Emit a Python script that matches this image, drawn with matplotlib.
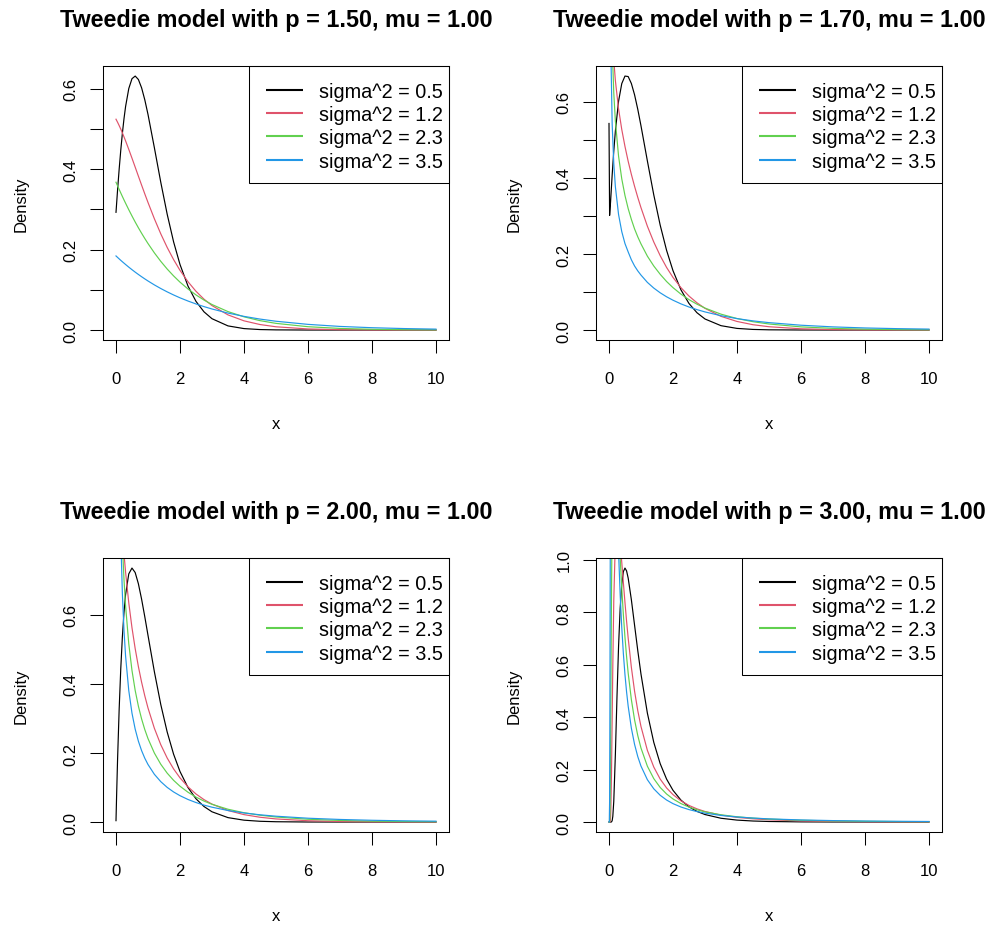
import numpy as np
import matplotlib
matplotlib.use("Agg")
import matplotlib.pyplot as plt
from matplotlib.lines import Line2D
from matplotlib.patches import Rectangle
from matplotlib.ticker import MultipleLocator, FormatStrFormatter

plt.rcParams["font.family"] = ["Liberation Sans", "DejaVu Sans"]

nan = float("nan")

line_colors = ["black", "#DF536B", "#61D04F", "#2297E6"]
legend_labels = ["sigma^2 = 0.5", "sigma^2 = 1.2", "sigma^2 = 2.3", "sigma^2 = 3.5"]
titles = ["Tweedie model with p = 1.50, mu = 1.00",
          "Tweedie model with p = 1.70, mu = 1.00",
          "Tweedie model with p = 2.00, mu = 1.00",
          "Tweedie model with p = 3.00, mu = 1.00"]

# p = 1.50
x_p150 = [0, 0.05, 0.1, 0.15, 0.2, 0.25, 0.3, 0.4, 0.5, 0.6, 0.7, 0.8, 0.9, 1.0,
          1.2, 1.4, 1.6, 1.8, 2.0, 2.25, 2.5, 2.75, 3.0, 3.5, 4.0, 4.5, 5.0,
          6.0, 7.0, 8.0, 9.0, 10.0]
p150_s05 = [0.2930, 0.3496, 0.4016, 0.4485, 0.4900, 0.5261, 0.5565, 0.6012, 0.6256,
            0.6321, 0.6235, 0.6028, 0.5729, 0.5366, 0.4534, 0.3675, 0.2881, 0.2194,
            0.1631, 0.1094, 0.0713, 0.0453, 0.0282, 0.0103, 0.0036, 0.0012, 0.0004,
            0.0, 0.0, 0.0, 0.0, 0.0]
p150_s12 = [0.5247, 0.5170, 0.5087, 0.4999, 0.4905, 0.4807, 0.4706, 0.4495, 0.4276,
            0.4053, 0.3829, 0.3607, 0.3388, 0.3175, 0.2768, 0.2393, 0.2055, 0.1753,
            0.1486, 0.1202, 0.0964, 0.0768, 0.0609, 0.0377, 0.0229, 0.0137, 0.0081,
            0.0027, 0.0009, 0.0003, 0.0001, 0.0]
p150_s23 = [0.3679, 0.3588, 0.3498, 0.3410, 0.3323, 0.3238, 0.3155, 0.2993, 0.2838,
            0.2688, 0.2545, 0.2409, 0.2278, 0.2153, 0.1920, 0.1709, 0.1518, 0.1347,
            0.1192, 0.1022, 0.0874, 0.0746, 0.0635, 0.0459, 0.0329, 0.0234, 0.0166,
            0.0083, 0.0040, 0.0019, 0.0009, 0.0004]
p150_s35 = [0.1844, 0.1807, 0.1770, 0.1734, 0.1699, 0.1665, 0.1631, 0.1565, 0.1502,
            0.1441, 0.1383, 0.1327, 0.1273, 0.1221, 0.1123, 0.1033, 0.0950, 0.0873,
            0.0802, 0.0722, 0.0649, 0.0583, 0.0524, 0.0422, 0.0340, 0.0273, 0.0219,
            0.0141, 0.0090, 0.0058, 0.0037, 0.0023]

# p = 1.70
x_p170 = [0.001, 0.02, 0.05, 0.1, 0.15, 0.2, 0.3, 0.4, 0.5, 0.6, 0.7, 0.8, 0.9, 1.0,
          1.2, 1.4, 1.6, 1.8, 2.0, 2.25, 2.5, 2.75, 3.0, 3.5, 4.0, 4.5, 5.0,
          6.0, 7.0, 8.0, 9.0, 10.0]
p170_s05 = [0.5434, 0.3015, 0.3373, 0.4080, 0.4705, 0.5234, 0.6019, 0.6483, 0.6681,
            0.6668, 0.6485, 0.6188, 0.5807, 0.5374, 0.4449, 0.3555, 0.2761, 0.2097,
            0.1563, 0.1056, 0.0699, 0.0455, 0.0291, 0.0115, 0.0043, 0.0016, 0.0006,
            0.0001, 0.0, 0.0, 0.0, 0.0]
p170_s12 = [nan, 1.3654, 0.9868, 0.7983, 0.7116, 0.6562, 0.5816, 0.5275, 0.4830,
            0.4439, 0.4094, 0.3780, 0.3490, 0.3220, 0.2732, 0.2316, 0.1957, 0.1647,
            0.1385, 0.1114, 0.0894, 0.0716, 0.0571, 0.0360, 0.0226, 0.0140, 0.0087,
            0.0033, 0.0012, 0.0004, 0.0002, 0.0001]
p170_s23 = [nan, 1.5575, 1.0154, 0.7455, 0.6242, 0.5497, 0.4571, 0.3976, 0.3540,
            0.3195, 0.2910, 0.2660, 0.2452, 0.2267, 0.1944, 0.1685, 0.1467, 0.1277,
            0.1116, 0.0944, 0.0800, 0.0680, 0.0578, 0.0418, 0.0303, 0.0219, 0.0159,
            0.0083, 0.0044, 0.0023, 0.0012, 0.0006]
p170_s35 = [nan, 1.2561, 0.7759, 0.5414, 0.4386, 0.3772, 0.3037, 0.2589, 0.2275,
            0.2055, 0.1848, 0.1685, 0.1556, 0.1446, 0.1254, 0.1104, 0.0980, 0.0875,
            0.0785, 0.0688, 0.0606, 0.0537, 0.0477, 0.0377, 0.0301, 0.0241, 0.0195,
            0.0127, 0.0083, 0.0055, 0.0037, 0.0025]

# p = 2.00
x_p200 = [0.001, 0.02, 0.05, 0.1, 0.15, 0.2, 0.25, 0.3, 0.4, 0.5, 0.6, 0.7, 0.8, 0.9,
          1.0, 1.2, 1.4, 1.6, 1.8, 2.0, 2.25, 2.5, 2.75, 3.0, 3.5, 4.0, 4.5, 5.0,
          6.0, 7.0, 8.0, 9.0, 10.0]
p200_s05 = [0.0040, 0.0769, 0.1810, 0.3275, 0.4445, 0.5363, 0.6065, 0.6586, 0.7189,
            0.7358, 0.7229, 0.6905, 0.6461, 0.5951, 0.5413, 0.4355, 0.3405, 0.2609,
            0.1967, 0.1465, 0.1000, 0.0674, 0.0450, 0.0297, 0.0128, 0.0054, 0.0022,
            0.0009, 0.0001, 0.0, 0.0, 0.0, 0.0]
p200_s12 = [2.41, 1.437, 1.2026, 1.0277, 0.9213, 0.8424, 0.7784, 0.7244, 0.6352,
            0.5631, 0.5026, 0.4506, 0.4055, 0.3659, 0.3307, 0.2716, 0.2241, 0.1855,
            0.1540, 0.1281, 0.1020, 0.0813, 0.0650, 0.0520, 0.0334, 0.0215, 0.0139,
            0.0090, 0.0038, 0.0016, 0.0007, 0.0003, 0.0001]
p200_s23 = [12.6, 2.7926, 1.7399, 1.2000, 0.9555, 0.8071, 0.7041, 0.6268, 0.5164,
            0.4394, 0.3815, 0.3360, 0.2990, 0.2681, 0.2420, 0.1999, 0.1674, 0.1417,
            0.1209, 0.1038, 0.0864, 0.0723, 0.0608, 0.0514, 0.0371, 0.0270, 0.0198,
            0.0146, 0.0081, 0.0046, 0.0026, 0.0015, 0.0009]
p200_s35 = [30.8, 3.608, 1.859, 1.117, 0.8242, 0.6617, 0.5562, 0.4813, 0.3809,
            0.3156, 0.2693, 0.2344, 0.2071, 0.1850, 0.1668, 0.1383, 0.1170, 0.1004,
            0.0872, 0.0764, 0.0654, 0.0565, 0.0491, 0.0430, 0.0334, 0.0263, 0.0210,
            0.0169, 0.0111, 0.0075, 0.0051, 0.0035, 0.0025]

# p = 3.00
x_p300 = [0.001, 0.01, 0.02, 0.03, 0.04, 0.05, 0.06, 0.08, 0.1, 0.12, 0.15, 0.2,
          0.25, 0.3, 0.35, 0.4, 0.45, 0.5, 0.55, 0.6, 0.7, 0.8, 0.9, 1.0, 1.2, 1.4,
          1.6, 1.8, 2.0, 2.25, 2.5, 2.75, 3.0, 3.5, 4.0, 4.5, 5.0, 6.0, 7.0, 8.0,
          9.0, 10.0]
p300_s05 = [0.0, 0.0, 0.0, 0.0, 0.0, 0.0, 0.0, 0.0006, 0.0054, 0.0214, 0.0786, 0.2571,
            0.4757, 0.6705, 0.8148, 0.9066, 0.9543, 0.9678, 0.9571, 0.9297, 0.8470,
            0.7500, 0.6534, 0.5642, 0.4151, 0.3038, 0.2226, 0.1637, 0.1210, 0.0835,
            0.0580, 0.0406, 0.0286, 0.0144, 0.0074, 0.0039, 0.0021, 0.0006, 0.0002,
            0.0001, 0.0, 0.0]
p300_s12 = [0.0, 0.0, 0.0, 0.0002, 0.0031, 0.0176, 0.0536, 0.1960, 0.3940, 0.5954,
            0.8426, 1.0734, 1.1409, 1.1222, 1.0635, 0.9894, 0.9117, 0.8364, 0.7659,
            0.7012, 0.5894, 0.4985, 0.4246, 0.3642, 0.2732, 0.2096, 0.1638, 0.1300,
            0.1046, 0.0808, 0.0633, 0.0502, 0.0402, 0.0264, 0.0178, 0.0123, 0.0086,
            0.0044, 0.0023, 0.0013, 0.0007, 0.0004]
p300_s23 = [0.0, 0.0, 0.0006, 0.0213, 0.1111, 0.2768, 0.4833, 0.8853, 1.1775, 1.3520,
            1.4565, 1.4172, 1.2858, 1.1413, 1.0074, 0.8904, 0.7899, 0.7041, 0.6308,
            0.5678, 0.4665, 0.3893, 0.3295, 0.2821, 0.2128, 0.1655, 0.1318, 0.1069,
            0.0880, 0.0703, 0.0570, 0.0468, 0.0389, 0.0276, 0.0201, 0.0150, 0.0113,
            0.0068, 0.0042, 0.0027, 0.0018, 0.0012]
p300_s35 = [0.0, 0.0002, 0.0791, 0.4649, 0.9917, 1.4476, 1.7703, 2.0793, 2.1202, 2.0405,
            1.8447, 1.5095, 1.2370, 1.0278, 0.8668, 0.7412, 0.6418, 0.5616, 0.4960,
            0.4417, 0.3575, 0.2959, 0.2494, 0.2133, 0.1614, 0.1267, 0.1020, 0.0839,
            0.0702, 0.0572, 0.0474, 0.0399, 0.0339, 0.0252, 0.0193, 0.0151, 0.0121,
            0.0080, 0.0055, 0.0039, 0.0029, 0.0021]

panels = [
    (x_p150, [p150_s05, p150_s12, p150_s23, p150_s35], 0.1),
    (x_p170, [p170_s05, p170_s12, p170_s23, p170_s35], 0.1),
    (x_p200, [p200_s05, p200_s12, p200_s23, p200_s35], None),
    (x_p300, [p300_s05, p300_s12, p300_s23, p300_s35], None),
]

W, H = 993, 928
AX_W, AX_H = 345.6, 274.3
lefts = [103.2, 596.2]
tops = [66.9, 558.9]

fig = plt.figure(figsize=(W / 100, H / 100), dpi=100)


def px_x(px):
    # pixels from the left edge of the axes -> axes fraction
    return px / AX_W


def px_y(px):
    # pixels down from the top edge of the axes -> axes fraction
    return 1 - px / AX_H


def draw_legend(ax):
    ax.add_patch(Rectangle((px_x(146.1), px_y(117.1)), 1 - px_x(146.1), px_y(0) - px_y(117.1),
                           transform=ax.transAxes, fill=False, edgecolor="black",
                           linewidth=0.75, clip_on=False, zorder=5))
    for i in range(4):
        yc = 23.8 + 23.33 * i
        ax.add_line(Line2D([px_x(162.8), px_x(200.1)], [px_y(yc), px_y(yc)],
                           transform=ax.transAxes, color=line_colors[i], linewidth=1.5,
                           solid_capstyle="butt", clip_on=False, zorder=5))
        ax.text(px_x(216.1), px_y(yc + 7.0), legend_labels[i], transform=ax.transAxes,
                fontsize=14.3, ha="left", va="baseline", zorder=5)


for k, (xs, series, minor) in enumerate(panels):
    row, col = k // 2, k % 2
    left = lefts[col]
    top = tops[row]
    ax = fig.add_axes([left / W, 1 - (top + AX_H) / H, AX_W / W, AX_H / H])

    x = np.array(xs)
    for ys, c in zip(series, line_colors):
        ax.plot(x, np.array(ys), color=c, linewidth=0.85)

    black = np.array(series[0])
    lo, hi = np.nanmin(black), np.nanmax(black)
    ax.set_ylim(lo - 0.04 * (hi - lo), hi + 0.04 * (hi - lo))
    ax.set_xlim(x.min() - 0.04 * (x.max() - x.min()), x.max() + 0.04 * (x.max() - x.min()))

    ax.set_xticks([0, 2, 4, 6, 8, 10])
    ax.yaxis.set_major_locator(MultipleLocator(0.2))
    ax.yaxis.set_major_formatter(FormatStrFormatter("%.1f"))
    if minor:
        ax.yaxis.set_minor_locator(MultipleLocator(minor))
    ax.tick_params(which="both", direction="out", length=9.2, width=0.75, labelsize=12)
    ax.tick_params(axis="x", pad=12.7)
    ax.tick_params(axis="y", pad=8.7, labelrotation=90)
    for lab in ax.get_yticklabels():
        lab.set_va("center")
    for s in ax.spines.values():
        s.set_linewidth(0.75)

    ax.set_xlabel("x", fontsize=12)
    ax.xaxis.set_label_coords(0.5, -(429.3 - 341.2) / AX_H)
    ax.xaxis.label.set_va("baseline")
    ax.set_ylabel("Density", fontsize=12)
    ax.yaxis.set_label_coords(-(103.2 - 25.5) / AX_W, 0.5)
    ax.yaxis.label.set_va("baseline")

    fig.text((left + AX_W / 2) / W, 1 - (26.7 + 492 * row) / H, titles[k],
             ha="center", va="baseline", fontsize=16.8, fontweight="bold")

    draw_legend(ax)

fig.savefig("out.png", dpi=100)
